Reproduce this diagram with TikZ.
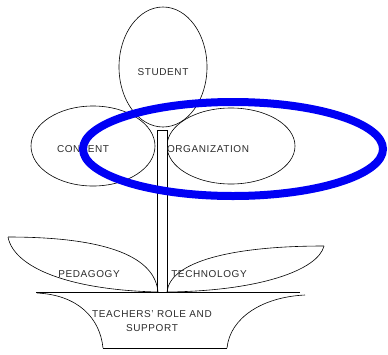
\documentclass[tikz,border=0pt]{standalone}
\usepackage{fontspec}
\setmainfont{Liberation Sans}[LetterSpace=6]
\usetikzlibrary{positioning}
\definecolor{ring}{HTML}{0000F5}
\definecolor{ink}{HTML}{2B2B2B}
\tikzset{
  outline/.style={draw=black,line width=.6pt},
  label/.style={text=ink,font=\fontsize{10}{14}\selectfont,inner sep=0pt,align=center}
}

\begin{document}
\begin{tikzpicture}[x=1pt,y=-1pt]
\useasboundingbox (0,0) rectangle (388,354);
% flower heads
\draw[outline] (163,67) ellipse [x radius=44pt,y radius=60pt];
\draw[outline] (93,146) ellipse [x radius=62pt,y radius=40pt];
\draw[outline] (231,146) ellipse [x radius=64pt,y radius=38pt];
% stem
\draw[outline,fill=white] (157,130) rectangle (167,292);
% leaves
\draw[outline] (8,237) .. controls (110,237) and (155,258) .. (158,292);
\draw[outline] (8,237) .. controls (14,268) and (70,290) .. (158,292);
\draw[outline] (324,246) .. controls (230,246) and (170,262) .. (167,292);
\draw[outline] (324,246) .. controls (318,270) and (260,291) .. (167,292);
% pot
\draw[outline] (36,292) -- (300,292);
\draw[outline] (37,293) .. controls (78,295) and (100,318) .. (103,348);
\draw[outline] (305,295) .. controls (262,297) and (230,318) .. (227,348);
\draw[outline] (103,348) -- (227,348);
% texts
\node[label] (student) at (163,72) {STUDENT};
\node[label] (content) at (83,149) {CONTENT};
\node[label] (organization) at (208,149) {ORGANIZATION};
\node[label] (pedagogy) at (89,274) {PEDAGOGY};
\node[label] (technology) at (209,274) {TECHNOLOGY};
\node[label] (teachers) at (152,321) {TEACHERS' ROLE AND\\SUPPORT};
% highlight
\draw[ring,line width=8pt] (233,149) ellipse [x radius=150pt,y radius=47pt];
\end{tikzpicture}
\end{document}
